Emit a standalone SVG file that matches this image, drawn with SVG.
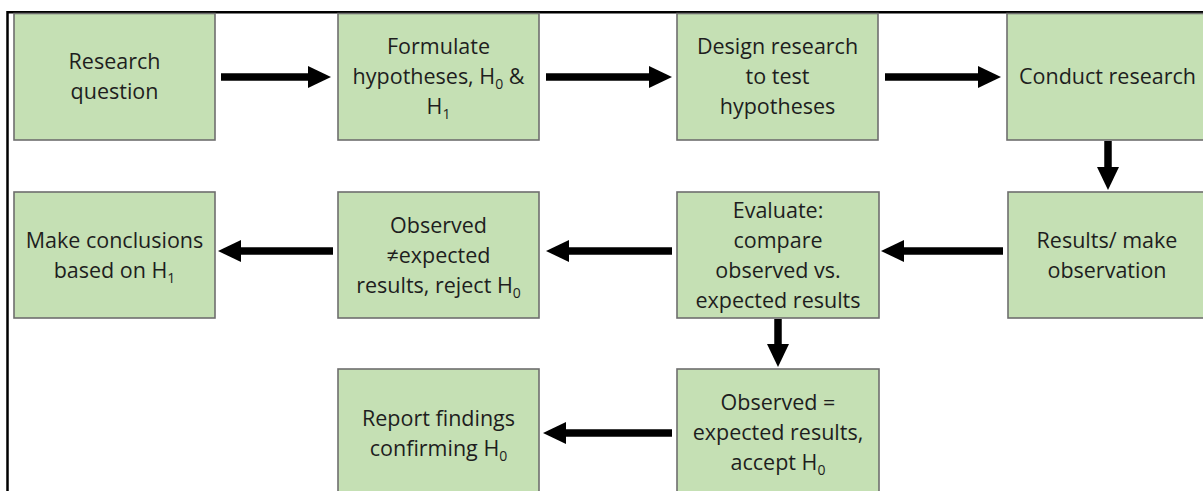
<svg xmlns="http://www.w3.org/2000/svg" width="1203" height="491" viewBox="0 0 1203 491">
<style>
.box{fill:#c5e0b4;stroke:#6e6e6e;stroke-width:1.6}
.t{font-family:"Open Sans","Liberation Sans",sans-serif;font-size:21.5px;fill:#1e1e1e;text-anchor:middle}
.sub{font-size:14px}
.c{stroke:#000;stroke-width:7.5;fill:none;marker-end:url(#ah)}
</style>
<defs>
<marker id="ah" markerUnits="userSpaceOnUse" markerWidth="23" markerHeight="22" refX="11" refY="11" orient="auto" viewBox="0 0 23 22">
<path d="M0,0 L23,11 L0,22 Z" fill="#000"/>
</marker>
</defs>
<rect width="1203" height="491" fill="#fff"/>
<path d="M7.5,491 V12.3 H1203" fill="none" stroke="#000" stroke-width="2.5"/>

<g id="n1"><rect class="box" x="14" y="13.5" width="201" height="126.5"/>
<text class="t"><tspan x="114.5" y="69">Research</tspan><tspan x="114.5" y="99">question</tspan></text></g>

<g id="n2"><rect class="box" x="338" y="13.5" width="201" height="126.5"/>
<text class="t"><tspan x="438.5" y="54">Formulate</tspan><tspan x="438.5" y="84">hypotheses, H<tspan class="sub" dy="5">0</tspan><tspan dy="-5"> &amp;</tspan></tspan><tspan x="438.5" y="114">H<tspan class="sub" dy="5">1</tspan></tspan></text></g>

<g id="n3"><rect class="box" x="677" y="13.5" width="201" height="126.5"/>
<text class="t"><tspan x="777.5" y="54">Design research</tspan><tspan x="777.5" y="84">to test</tspan><tspan x="777.5" y="114">hypotheses</tspan></text></g>

<g id="n4"><rect class="box" x="1007" y="13.5" width="201" height="126.5"/>
<text class="t"><tspan x="1107.5" y="84">Conduct research</tspan></text></g>

<g id="n5"><rect class="box" x="1008" y="192" width="201" height="126"/>
<text class="t"><tspan x="1107" y="248">Results/ make</tspan><tspan x="1107" y="278">observation</tspan></text></g>

<g id="n6"><rect class="box" x="677" y="192" width="202" height="126"/>
<text class="t"><tspan x="778" y="217.5">Evaluate:</tspan><tspan x="778" y="247.5">compare</tspan><tspan x="778" y="277.5">observed vs.</tspan><tspan x="778" y="307.5">expected results</tspan></text></g>

<g id="n7"><rect class="box" x="338" y="192" width="201" height="126"/>
<text class="t"><tspan x="438.5" y="232.5">Observed</tspan><tspan x="438.5" y="262.5">≠expected</tspan><tspan x="438.5" y="292.5">results, reject H<tspan class="sub" dy="5">0</tspan></tspan></text></g>

<g id="n8"><rect class="box" x="14" y="192" width="201" height="126"/>
<text class="t"><tspan x="114.5" y="248">Make conclusions</tspan><tspan x="114.5" y="278">based on H<tspan class="sub" dy="5">1</tspan></tspan></text></g>

<g id="n9"><rect class="box" x="677" y="369" width="202" height="127"/>
<text class="t"><tspan x="778" y="410">Observed =</tspan><tspan x="778" y="440">expected results,</tspan><tspan x="778" y="470">accept H<tspan class="sub" dy="5">0</tspan></tspan></text></g>

<g id="n10"><rect class="box" x="338" y="369" width="201" height="127"/>
<text class="t"><tspan x="438.5" y="426">Report findings</tspan><tspan x="438.5" y="456">confirming H<tspan class="sub" dy="5">0</tspan></tspan></text></g>

<g id="connectors">
<path class="c" d="M221,77 H319"/>
<path class="c" d="M546,77 H660"/>
<path class="c" d="M885,77 H989"/>
<path class="c" d="M1108,141 V178"/>
<path class="c" d="M1003,251 H893"/>
<path class="c" d="M672,251 H558"/>
<path class="c" d="M333,251 H230"/>
<path class="c" d="M778,319 V355"/>
<path class="c" d="M672,433 H555"/>
</g>
</svg>
